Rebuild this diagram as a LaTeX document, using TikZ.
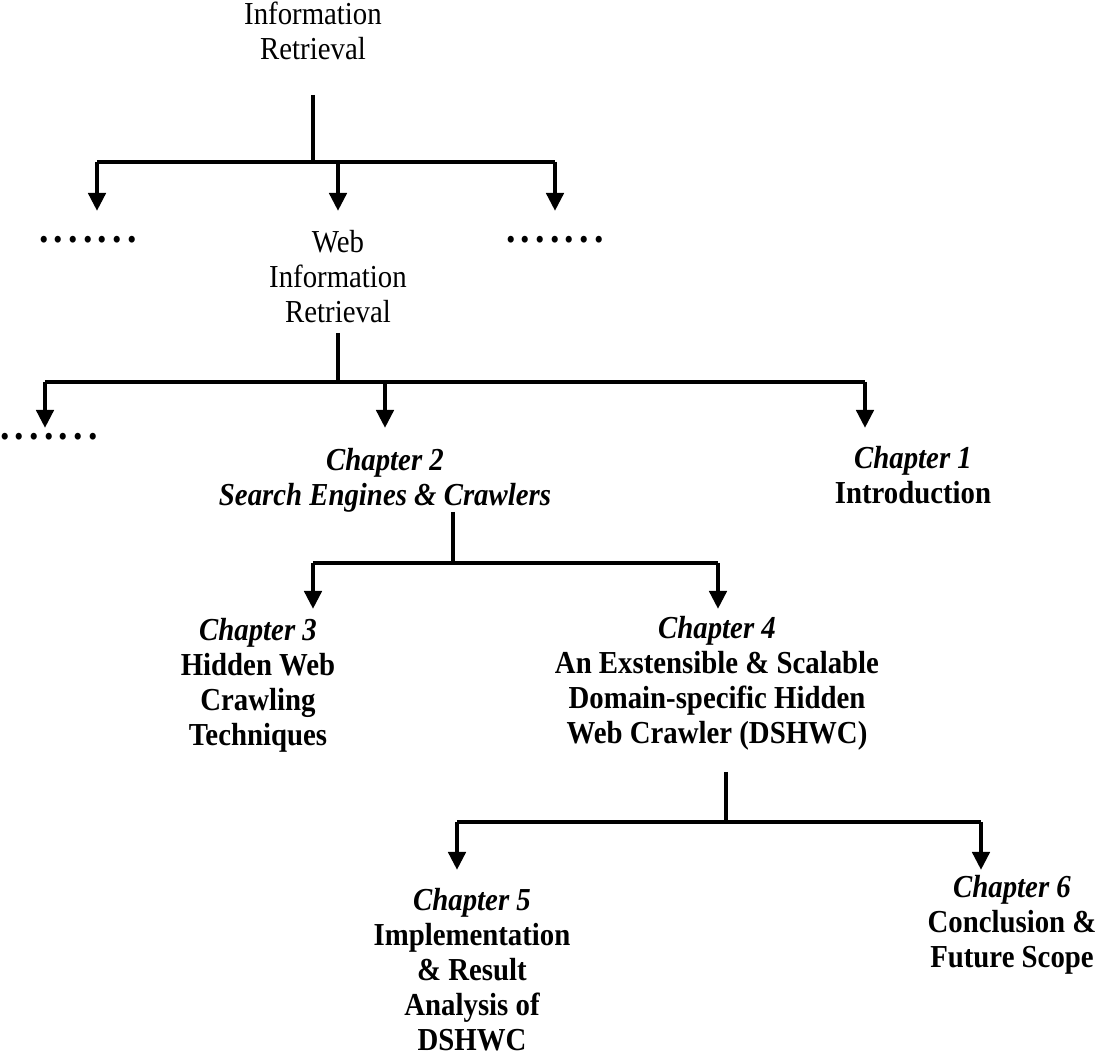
\documentclass[tikz,border=0pt]{standalone}
\usepackage{fontspec}
\setmainfont{Liberation Serif}[FakeStretch=0.9]
\usetikzlibrary{arrows.meta}
\newcommand{\dotrow}{.\hspace{2.6pt}.\hspace{2.6pt}.\hspace{2.6pt}.\hspace{2.6pt}.\hspace{2.6pt}.\hspace{2.6pt}.}

\begin{document}
\begin{tikzpicture}[x=0.5pt, y=-0.5pt,
  every node/.style={align=center, font=\fontsize{16}{17.5}\selectfont, inner sep=0pt},
  chap/.style={font=\fontsize{16}{17.5}\selectfont\bfseries},
  dots/.style={font=\fontsize{21}{21}\selectfont\bfseries},
  link/.style={line width=2.2pt},
  arrow/.style={line width=2.2pt, -{Triangle[length=9pt, width=8.5pt]}}]
  \useasboundingbox (0,0) rectangle (1115,1063);

  % Level 0: Information Retrieval
  \node (ir) at (313,31) {Information\\Retrieval};
  \node[dots] (dotsA) at (88,240) {\dotrow};
  \node[dots] (dotsB) at (555,240) {\dotrow};
  \node (wir) at (338,277) {Web\\Information\\Retrieval};

  % Level 1: Web Information Retrieval
  \node[dots] (dotsC) at (49,437) {\dotrow};
  \node[chap] (ch2) at (385,480) {\textit{Chapter 2}\\\textit{Search Engines \& Crawlers}};
  \node[chap] (ch1) at (913,475) {\textit{Chapter 1}\\Introduction};

  % Level 2: Chapter 2
  \node[chap] (ch3) at (258,685) {\textit{Chapter 3}\\Hidden Web\\Crawling\\Techniques};
  \node[chap] (ch4) at (717,683) {\textit{Chapter 4}\\An Exstensible \& Scalable\\Domain-specific Hidden\\Web Crawler (DSHWC)};

  % Level 3: Chapter 4
  \node[chap] (ch5) at (472,970) {\textit{Chapter 5}\\Implementation\\\& Result\\Analysis of\\DSHWC};
  \node[chap] (ch6) at (1012,925) {\textit{Chapter 6}\\Conclusion \&\\Future Scope};

  % junctions and arrow tips
  \coordinate (t1) at (313,95);  \coordinate (j1) at (313,162);
  \coordinate (l1) at (97,162);  \coordinate (m1) at (338,162); \coordinate (r1) at (555,162);
  \coordinate (a1) at (0,211);
  \coordinate (t2) at (338,333); \coordinate (j2) at (338,382);
  \coordinate (l2) at (45,382);  \coordinate (m2) at (385,382); \coordinate (r2) at (865,382);
  \coordinate (a2) at (0,428);
  \coordinate (t3) at (453,512); \coordinate (j3) at (453,563);
  \coordinate (l3) at (313,563); \coordinate (r3) at (718,563);
  \coordinate (a3) at (0,609);
  \coordinate (t4) at (726,772); \coordinate (j4) at (726,822);
  \coordinate (l4) at (457,822); \coordinate (r4) at (981,822);
  \coordinate (a4) at (0,870);

  % tree 1
  \draw[link] (t1) -- (j1);
  \draw[link] (l1) -- (r1);
  \draw[arrow] (l1) -- (l1 |- a1);
  \draw[arrow] (m1) -- (m1 |- a1);
  \draw[arrow] (r1) -- (r1 |- a1);

  % tree 2
  \draw[link] (t2) -- (j2);
  \draw[link] (l2) -- (r2);
  \draw[arrow] (l2) -- (l2 |- a2);
  \draw[arrow] (m2) -- (m2 |- a2);
  \draw[arrow] (r2) -- (r2 |- a2);

  % tree 3
  \draw[link] (t3) -- (j3);
  \draw[link] (l3) -- (r3);
  \draw[arrow] (l3) -- (l3 |- a3);
  \draw[arrow] (r3) -- (r3 |- a3);

  % tree 4
  \draw[link] (t4) -- (j4);
  \draw[link] (l4) -- (r4);
  \draw[arrow] (l4) -- (l4 |- a4);
  \draw[arrow] (r4) -- (r4 |- a4);
\end{tikzpicture}
\end{document}
